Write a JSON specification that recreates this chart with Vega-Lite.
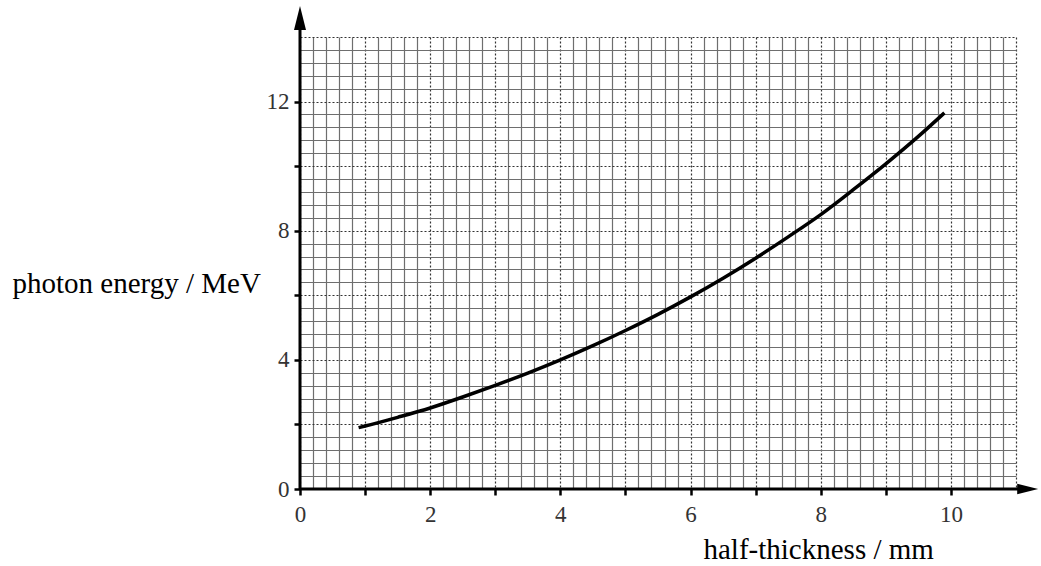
{
  "$schema": "https://vega.github.io/schema/vega-lite/v6.json",
  "autosize": {"type": "none"},
  "padding": {"left": 300, "top": 37, "right": 25, "bottom": 77},
  "width": 716,
  "height": 452,
  "background": "white",
  "view": {"stroke": null},
  "config": {
    "axis": {
      "labelFont": "Liberation Serif",
      "labelFontSize": 23,
      "labelColor": "#333",
      "titleFont": "Liberation Serif",
      "titleFontSize": 29,
      "titleFontWeight": "normal",
      "titleColor": "black"
    }
  },
  "data": {"values": [
    {"t": 0.9, "E": 1.9},
    {"t": 1.0, "E": 1.95},
    {"t": 1.5, "E": 2.22},
    {"t": 2.0, "E": 2.51},
    {"t": 2.5, "E": 2.85},
    {"t": 3.0, "E": 3.21},
    {"t": 3.5, "E": 3.59},
    {"t": 4.0, "E": 4.0},
    {"t": 4.5, "E": 4.44},
    {"t": 5.0, "E": 4.91},
    {"t": 5.5, "E": 5.41},
    {"t": 6.0, "E": 5.95},
    {"t": 6.5, "E": 6.53},
    {"t": 7.0, "E": 7.15},
    {"t": 7.5, "E": 7.81},
    {"t": 8.0, "E": 8.5},
    {"t": 8.5, "E": 9.27},
    {"t": 9.0, "E": 10.07},
    {"t": 9.5, "E": 10.92},
    {"t": 9.9, "E": 11.65}
  ]},
  "layer": [
    {
      "mark": {"type": "line", "color": "black", "strokeWidth": 3.5, "interpolate": "monotone"},
      "encoding": {
        "x": {
          "field": "t", "type": "quantitative",
          "scale": {"domain": [0, 11], "nice": false, "zero": false},
          "axis": {
            "title": "half-thickness / mm",
            "values": [0,0.2,0.4,0.6,0.8,1,1.2,1.4,1.6,1.8,2,2.2,2.4,2.6,2.8,3,3.2,3.4,3.6,3.8,4,4.2,4.4,4.6,4.8,5,5.2,5.4,5.6,5.8,6,6.2,6.4,6.6,6.8,7,7.2,7.4,7.6,7.8,8,8.2,8.4,8.6,8.8,9,9.2,9.4,9.6,9.8,10,10.2,10.4,10.6,10.8,11],
            "tickCount": 500,
            "domain": false,
            "grid": true,
            "gridWidth": 1.2,
            "gridColor": {"condition": {"test": "datum.value % 1 === 0", "value": "#333"}, "value": "#6e6e6e"},
            "gridDash": {"condition": {"test": "datum.value % 1 === 0", "value": [2, 2]}, "value": []},
            "ticks": true,
            "tickSize": 6,
            "tickWidth": 2.5,
            "tickColor": "black",
            "tickOpacity": {"condition": {"test": "datum.value % 1 === 0 && datum.value <= 10", "value": 1}, "value": 0},
            "labelExpr": "datum.value % 2 === 0 && datum.value <= 10 ? format(datum.value, 'd') : ''",
            "labelPadding": 8,
            "labelFlush": false,
            "labelOverlap": false,
            "labelBound": false,
            "encode": {"labels": {"update": {"font": {"value": "Liberation Serif"}, "fontSize": {"value": 23}, "fill": {"value": "#333"}}}},
            "titleAlign": "left",
            "titleBaseline": "alphabetic",
            "titleX": 403,
            "titleY": 69
          }
        },
        "y": {
          "field": "E", "type": "quantitative",
          "scale": {"domain": [0, 14], "nice": false, "zero": false},
          "axis": {
            "title": "photon energy / MeV",
            "values": [0,0.4,0.8,1.2,1.6,2,2.4,2.8,3.2,3.6,4,4.4,4.8,5.2,5.6,6,6.4,6.8,7.2,7.6,8,8.4,8.8,9.2,9.6,10,10.4,10.8,11.2,11.6,12,12.4,12.8,13.2,13.6,14],
            "tickCount": 500,
            "domain": false,
            "grid": true,
            "gridWidth": 1.2,
            "gridColor": {"condition": {"test": "datum.value % 2 === 0", "value": "#333"}, "value": "#6e6e6e"},
            "gridDash": {"condition": {"test": "datum.value % 2 === 0", "value": [2, 2]}, "value": []},
            "ticks": true,
            "tickSize": 6,
            "tickWidth": 2.5,
            "tickColor": "black",
            "tickOpacity": {"condition": {"test": "datum.value % 2 === 0 && datum.value <= 12", "value": 1}, "value": 0},
            "labelExpr": "datum.value % 4 === 0 && datum.value <= 12 ? format(datum.value, 'd') : ''",
            "labelPadding": 5,
            "labelFlush": false,
            "labelOverlap": false,
            "labelBound": false,
            "encode": {"labels": {"update": {"font": {"value": "Liberation Serif"}, "fontSize": {"value": 23}, "fill": {"value": "#333"}}}},
            "titleAngle": 0,
            "titleAlign": "left",
            "titleBaseline": "alphabetic",
            "titleX": -288,
            "titleY": 255
          }
        }
      }
    },
    {
      "data": {"values": [{}]},
      "mark": {"type": "rule", "color": "black", "strokeWidth": 3},
      "encoding": {
        "x": {"datum": 0, "type": "quantitative"},
        "y": {"datum": 0, "type": "quantitative"},
        "y2": {"datum": 14.3}
      }
    },
    {
      "data": {"values": [{}]},
      "mark": {"type": "rule", "color": "black", "strokeWidth": 3},
      "encoding": {
        "x": {"datum": 0, "type": "quantitative"},
        "x2": {"datum": 11.1},
        "y": {"datum": 0, "type": "quantitative"}
      }
    },
    {
      "data": {"values": [{}]},
      "mark": {"type": "point", "filled": true, "color": "black", "opacity": 1, "strokeWidth": 0, "size": 576, "shape": "M-0.5,1 L0,-1 L0.5,1 Z"},
      "encoding": {
        "x": {"datum": 0, "type": "quantitative"},
        "y": {"datum": 14.59, "type": "quantitative"}
      }
    },
    {
      "data": {"values": [{}]},
      "mark": {"type": "point", "filled": true, "color": "black", "opacity": 1, "strokeWidth": 0, "size": 441, "shape": "M-1,-0.5 L1,0 L-1,0.5 Z"},
      "encoding": {
        "x": {"datum": 11.18, "type": "quantitative"},
        "y": {"datum": 0, "type": "quantitative"}
      }
    }
  ]
}
